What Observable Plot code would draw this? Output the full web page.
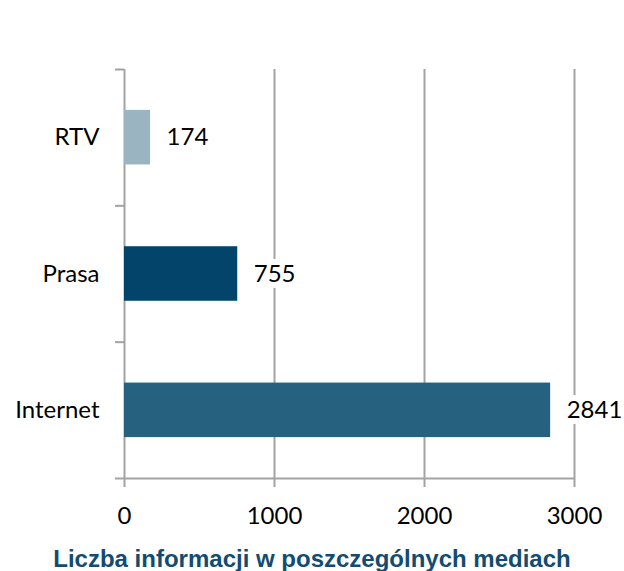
<!DOCTYPE html>
<html>
<head>
<meta charset="utf-8">
<script src="https://cdn.jsdelivr.net/npm/d3@7"></script>
<script src="https://cdn.jsdelivr.net/npm/@observablehq/plot@0.6"></script>
<style>
  html, body { margin: 0; padding: 0; background: #fff; }
  body { position: relative; width: 624px; height: 571px; overflow: hidden; }
  #chart { width: 624px; position: absolute; left: 0; top: 0; }
  #title { position: absolute; left: 0; top: 547px; width: 624px; text-align: center; font-family: "Liberation Sans", Arial, sans-serif; font-weight: bold; font-size: 24px; line-height: 24px; color: #124c70; }
</style>
</head>
<body>
<div id="chart"></div>
<div id="title">Liczba informacji w poszczególnych mediach</div>
<script>
const categories = ["RTV", "Prasa", "Internet"];
const values = [174, 755, 2841];
const colors = ["#9ab4c2", "#03456a", "#276180"];
const xTicks = [0, 1000, 2000, 3000];

const data = categories.map((c, i) => ({ cat: c, value: values[i], idx: i, color: colors[i] }));
const gridColor = "#a3a3a3";

const plot = Plot.plot({
  width: 624,
  height: 530,
  marginLeft: 124,
  marginRight: 50,
  marginTop: 69,
  marginBottom: 52,
  style: { fontFamily: "Lato, 'Open Sans', sans-serif", fontSize: "24px", color: "#000", background: "#fff" },
  x: { domain: [0, 3000] },
  y: { domain: [0, categories.length], reverse: true },
  marks: [
    Plot.ruleX(xTicks, { stroke: gridColor, strokeWidth: 2 }),
    Plot.ruleY([categories.length], { stroke: gridColor, strokeWidth: 2 }),
    Plot.axisX({ ticks: xTicks, tickSize: 9, tickPadding: 19, stroke: gridColor, strokeWidth: 2, fontSize: 24, tickFormat: d => String(d), label: null }),
    Plot.axisY({ ticks: d3.range(categories.length + 1), tickSize: 9, stroke: gridColor, strokeWidth: 2, tickFormat: () => "", label: null }),
    Plot.axisY({ ticks: categories.map((c, i) => i + 0.5), tickSize: 0, tickPadding: 25, fontSize: 24, tickFormat: d => categories[Math.floor(d)], label: null }),
    Plot.rectX(data, { x1: 0, x2: "value", y1: d => d.idx + 0.3, y2: d => d.idx + 0.7, fill: d => d.color }),
    Plot.text(data, { x: "value", y: d => d.idx + 0.5, text: d => String(d.value), textAnchor: "start", dx: 16, fontSize: 24, fill: "#000", stroke: "white", strokeWidth: 12, paintOrder: "stroke" })
  ]
});
document.getElementById("chart").appendChild(plot);
</script>
</body>
</html>
